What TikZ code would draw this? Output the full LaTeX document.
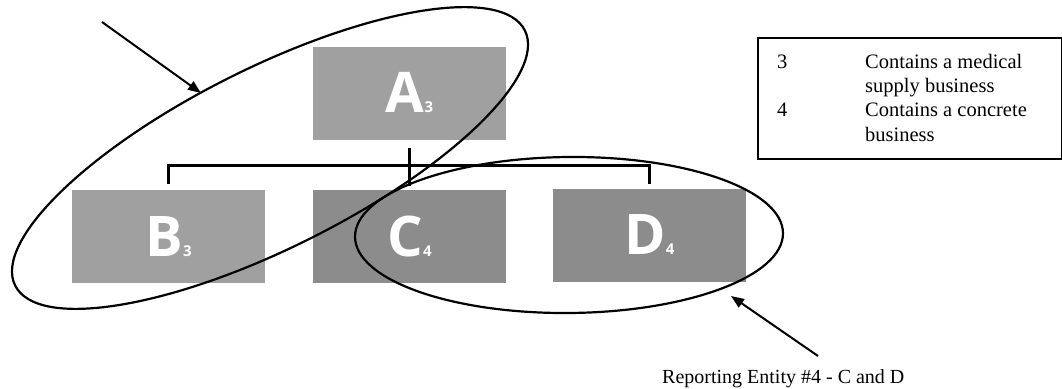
\documentclass[tikz,border=0pt]{standalone}
\usepackage{fontspec}
\setmainfont{Liberation Serif}
\newfontfamily\letterfont{Open Sans}
\usetikzlibrary{shapes.geometric,arrows.meta}
\definecolor{boxlight}{RGB}{160,160,160}
\definecolor{boxdark}{RGB}{140,140,140}
\tikzset{
  entbox/.style={minimum width=193pt, minimum height=93pt, inner sep=0pt,
    text=white, font=\letterfont\bfseries\fontsize{56}{56}\selectfont},
  conn/.style={line width=3pt, line cap=rect},
  ring/.style={draw, ellipse, line width=2.2pt, inner sep=0pt},
  pointer/.style={line width=2pt, -{Triangle[length=13pt,width=10pt]}},
  legtext/.style={anchor=base west, inner sep=0pt, font=\fontsize{20.5}{24}\selectfont},
}
\newcommand{\subdig}[1]{{\fontsize{15}{15}\selectfont #1}}
\begin{document}
\begin{tikzpicture}[x=1pt, y=-1pt]
\useasboundingbox (0,0) rectangle (1062,388);
% entity boxes
\node[entbox, fill=boxlight] (A) at (409.5,93) {A\subdig{3}};
\node[entbox, fill=boxlight] (B) at (168.5,236.5) {B\subdig{3}};
\node[entbox, fill=boxdark] (C) at (409.5,236.5) {C\subdig{4}};
\node[entbox, fill=boxdark] (D) at (649.5,235) {D\subdig{4}};
% org chart connectors
\coordinate (bus) at (410,165);
\draw[conn, shorten <=10pt, shorten >=5pt] (A.south) -- (C.north);
\draw[conn, shorten <=7pt, shorten >=6pt] (B.north) -- (B.north |- bus) -- (D.north |- bus) -- (D.north);
% reporting entity rings
\node[ring, minimum width=570pt, minimum height=180pt, rotate=26.6] (E1) at (270,158) {};
\node[ring, minimum width=428pt, minimum height=156pt, rotate=0.5] (E2) at (569,235) {};
% pointers
\coordinate (p1s) at (102,22);
\coordinate (p1e) at (201,93);
\draw[pointer] (p1s) -- (p1e);
\coordinate (p2s) at (818,356);
\coordinate (p2e) at (731,296);
\draw[pointer] (p2s) -- (p2e);
\node[anchor=base west, inner sep=0pt, font=\fontsize{20}{24}\selectfont] (lab) at (662,383) {Reporting Entity \#4 - C and D};
% legend
\node[draw, line width=1.5pt, minimum width=304pt, minimum height=121pt, inner sep=0pt, anchor=north west] (legend) at (757,37) {};
\node[legtext] (k3) at (777,68) {3};
\node[legtext] (t3a) at (865,68) {Contains a medical};
\node[legtext] (t3b) at (865,92) {supply business};
\node[legtext] (k4) at (777,116) {4};
\node[legtext] (t4a) at (865,116) {Contains a concrete};
\node[legtext] (t4b) at (865,141) {business};
\end{tikzpicture}
\end{document}
